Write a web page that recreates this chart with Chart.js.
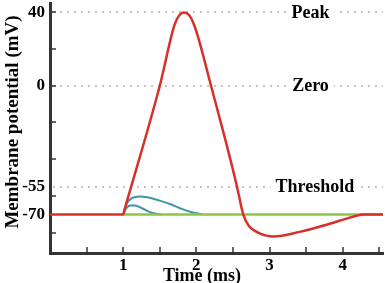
<!DOCTYPE html>
<html>
<head>
<meta charset="utf-8">
<script src="https://cdn.jsdelivr.net/npm/chart.js@4.4.1/dist/chart.umd.min.js"></script>
<style>
  html, body { margin: 0; padding: 0; background: #fff; }
  #wrap { width: 385px; height: 283px; position: relative; }
</style>
</head>
<body>
<div id="wrap"><canvas id="myChart"></canvas></div>
<script>
'use strict';

// action potential (red)
const apTime = [0, 1, 1.02, 1.5, 1.7, 1.76, 1.83, 1.9, 1.96, 2.02, 2.2, 2.4, 2.55, 2.64, 2.72, 2.85, 3.05, 3.41, 3.78, 4.05, 4.16, 4.27, 4.35, 4.55];
const apVolt = [-70, -70, -67.2, 0, 33, 38, 39.8, 38.5, 34, 27, 0, -30, -54, -70, -76.5, -80, -82, -79.5, -75.6, -72.3, -71, -70.1, -70, -70];

// sub-threshold responses (teal)
const highTime = [1, 1.05, 1.12, 1.22, 1.35, 1.5, 1.65, 1.8, 1.95, 2.08];
const highVolt = [-70, -64, -61.2, -60.2, -60.8, -62.5, -64.5, -67, -69, -70];
const lowTime = [1, 1.04, 1.1, 1.16, 1.25, 1.35, 1.45, 1.52];
const lowVolt = [-70, -66.8, -65.2, -65.2, -66.5, -68.5, -69.7, -70];

// resting potential (green)
const restTime = [1, 4.55];
const restVolt = [-70, -70];

const yLabels = [40, 0, -55, -70];
const xLabels = [1, 2, 3, 4];
const dottedLines = [40, 0, -55];
const yTickMarks = [40, 20, 0, -20, -40, -60, -80];
const xTickMarks = [0.5, 1, 1.5, 2, 2.5, 3, 3.5, 4, 4.5];

const noteNames = ['Peak', 'Zero', 'Threshold'];
const noteValues = [40, 0, -55];
const noteTimes = [3.56, 3.56, 3.62];

const serif = "'Liberation Serif', 'Times New Roman', serif";

function toPoints(xs, ys) {
  return xs.map((x, i) => ({x: x, y: ys[i]}));
}

function noPadding(s) {
  s.paddingTop = 0;
  s.paddingBottom = 0;
  s.paddingLeft = 0;
  s.paddingRight = 0;
}

const extras = {
  id: 'extras',
  beforeDatasetsDraw(chart) {
    const ctx = chart.ctx;
    const ys = chart.scales.y;
    const area = chart.chartArea;
    ctx.save();
    ctx.strokeStyle = '#c4c4c4';
    ctx.lineWidth = 2;
    ctx.setLineDash([2, 5]);
    dottedLines.forEach(v => {
      const y = Math.round(ys.getPixelForValue(v));
      ctx.beginPath();
      ctx.moveTo(area.left + 3, y);
      ctx.lineTo(area.right, y);
      ctx.stroke();
    });
    ctx.restore();
  },
  afterDraw(chart) {
    const ctx = chart.ctx;
    const xs = chart.scales.x;
    const ys = chart.scales.y;
    const area = chart.chartArea;
    ctx.save();

    // little ticks pointing into the plot
    ctx.strokeStyle = '#333';
    ctx.lineWidth = 1.5;
    yTickMarks.forEach(v => {
      const y = Math.round(ys.getPixelForValue(v));
      ctx.beginPath();
      ctx.moveTo(area.left, y);
      ctx.lineTo(area.left + 6, y);
      ctx.stroke();
    });
    xTickMarks.forEach(v => {
      const x = Math.round(xs.getPixelForValue(v));
      ctx.beginPath();
      ctx.moveTo(x, area.bottom);
      ctx.lineTo(x, area.bottom - 6);
      ctx.stroke();
    });

    // notes sitting on the dotted lines
    ctx.font = 'bold 18px ' + serif;
    ctx.textAlign = 'center';
    ctx.textBaseline = 'middle';
    for (let i = 0; i < noteNames.length; i++) {
      const x = xs.getPixelForValue(noteTimes[i]);
      const y = ys.getPixelForValue(noteValues[i]);
      const w = ctx.measureText(noteNames[i]).width;
      ctx.fillStyle = '#fff';
      ctx.fillRect(x - w / 2 - 5, y - 4, w + 10, 8);
      ctx.fillStyle = '#000';
      ctx.fillText(noteNames[i], x, y + 1);
    }

    // axis titles
    ctx.textBaseline = 'alphabetic';
    ctx.fillText('Time (ms)', 202, 281);

    ctx.translate(13, 122);
    ctx.rotate(-Math.PI / 2);
    ctx.font = 'bold 19px ' + serif;
    ctx.textBaseline = 'middle';
    ctx.fillText('Membrane potential (mV)', 0, 0);
    ctx.restore();
  }
};

Chart.defaults.font.family = serif;
Chart.defaults.font.weight = 'bold';
Chart.defaults.color = '#000';

const ctx = document.getElementById('myChart').getContext('2d');
const chart = new Chart(ctx, {
  type: 'line',
  data: {
    datasets: [{
      label: 'action potential',
      data: toPoints(apTime, apVolt),
      borderColor: '#d7302b',
      borderWidth: 2.5,
      cubicInterpolationMode: 'monotone'
    },
    {
      label: 'rest',
      data: toPoints(restTime, restVolt),
      borderColor: '#8ec641',
      borderWidth: 2.5
    },
    {
      label: 'sub high',
      data: toPoints(highTime, highVolt),
      borderColor: '#3f95a6',
      borderWidth: 2,
      cubicInterpolationMode: 'monotone'
    },
    {
      label: 'sub low',
      data: toPoints(lowTime, lowVolt),
      borderColor: '#3f95a6',
      borderWidth: 2,
      cubicInterpolationMode: 'monotone'
    }]
  },
  options: {
    responsive: true,
    maintainAspectRatio: false,
    animation: false,
    events: [],
    layout: { padding: { top: 3, right: 2, left: 0, bottom: 0 } },
    elements: { point: { radius: 0 } },
    plugins: { legend: { display: false }, tooltip: { enabled: false } },
    scales: {
      x: {
        type: 'linear',
        min: 0,
        max: 4.55,
        afterFit: s => { s.height = 30; noPadding(s); },
        afterBuildTicks: s => { s.ticks = xLabels.map(v => ({value: v})); },
        grid: { display: false, drawTicks: false },
        border: { display: true, color: '#333', width: 3 },
        ticks: { padding: 2, font: { size: 17 }, callback: v => String(v) }
      },
      y: {
        type: 'linear',
        min: -91,
        max: 45,
        afterFit: s => { s.width = 50; noPadding(s); },
        afterBuildTicks: s => { s.ticks = yLabels.map(v => ({value: v})); },
        grid: { display: false, drawTicks: false },
        border: { display: true, color: '#333', width: 3 },
        ticks: { padding: 5, autoSkip: false, font: { size: 17 }, callback: v => String(v) }
      }
    }
  },
  plugins: [extras]
});
</script>
</body>
</html>
